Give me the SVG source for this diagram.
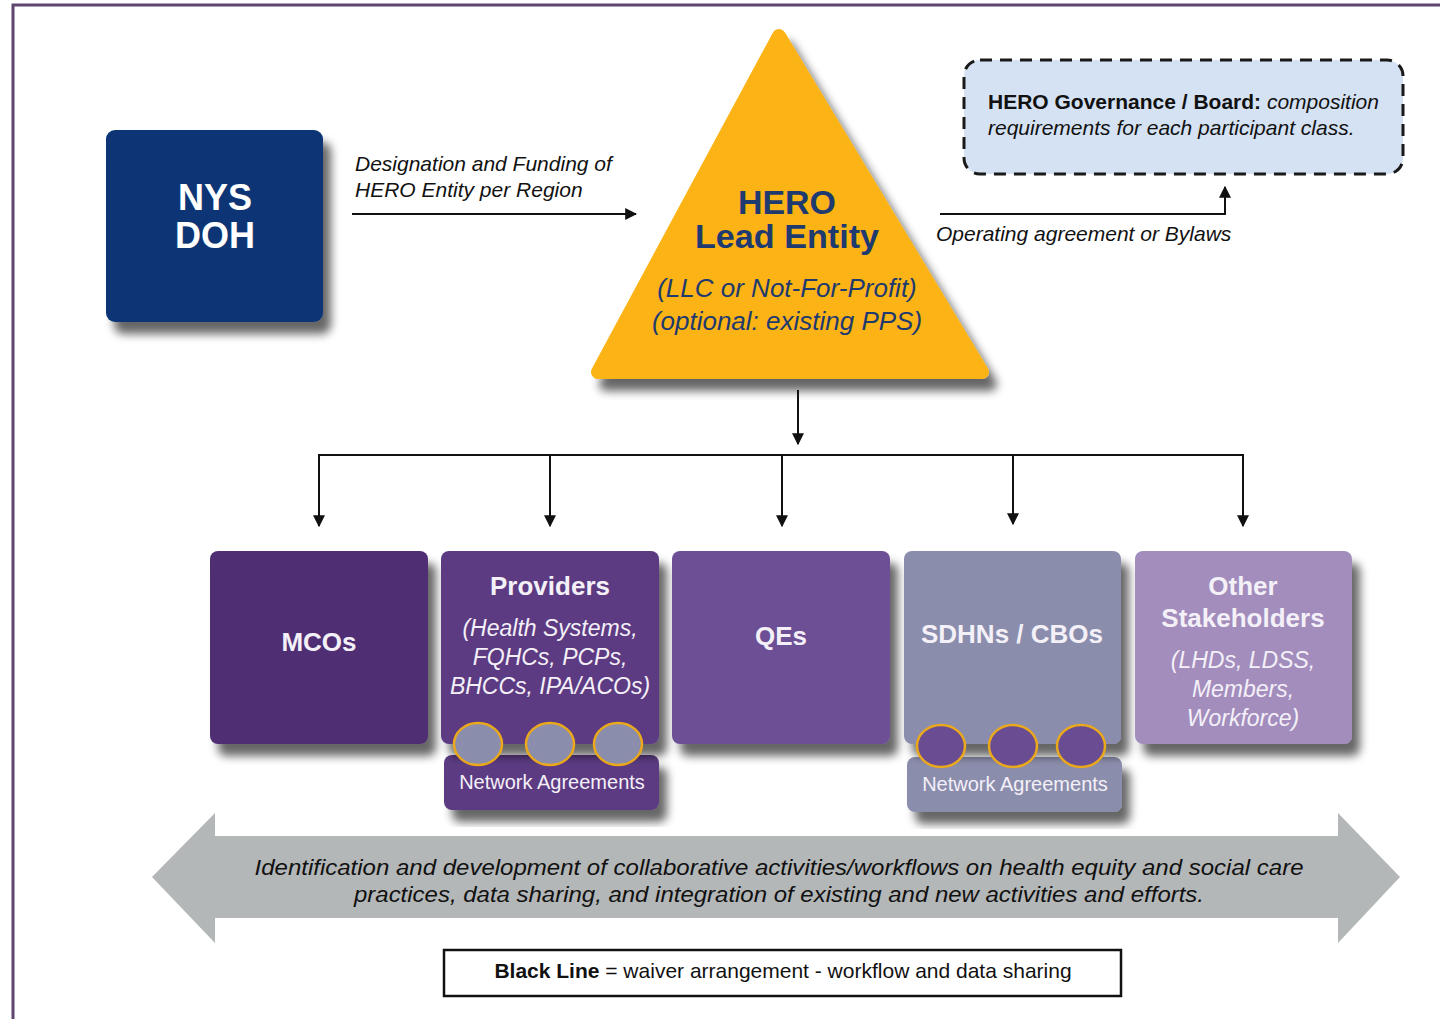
<svg xmlns="http://www.w3.org/2000/svg" width="1440" height="1019" viewBox="0 0 1440 1019">
<defs>
<style>
text{font-family:"Liberation Sans",Arial,sans-serif}
.it{font-style:italic}
.b{font-weight:bold}
.lbl{font-size:21px;fill:#111}
.wt{fill:#f4f0f8;text-anchor:middle}
.conn{stroke:#111;stroke-width:2;fill:none}
</style>
<filter id="sh" x="-20%" y="-20%" width="150%" height="150%">
<feGaussianBlur in="SourceAlpha" stdDeviation="5"/>
<feOffset dx="8" dy="12" result="o"/>
<feComponentTransfer><feFuncA type="linear" slope="0.6"/></feComponentTransfer>
<feMerge><feMergeNode/><feMergeNode in="SourceGraphic"/></feMerge>
</filter>
<marker id="ah" viewBox="0 0 10 10" refX="9" refY="5" markerWidth="6" markerHeight="6" orient="auto" markerUnits="strokeWidth">
<path d="M0,0 L10,5 L0,10 z" fill="#111"/>
</marker>
</defs>
<rect width="1440" height="1019" fill="#fff"/>
<path d="M13,1019 V5 H1440" fill="none" stroke="#5e4670" stroke-width="3"/>

<g id="nysdoh">
<rect x="106" y="130" width="217" height="192" rx="9" fill="#0b3574" filter="url(#sh)"/>
<text x="215" y="210" class="b" font-size="36" fill="#fff" text-anchor="middle">NYS</text>
<text x="215" y="248" class="b" font-size="36" fill="#fff" text-anchor="middle">DOH</text>
</g>

<g id="hero">
<polygon points="779,36 598,372 982,372" fill="#fcb316" stroke="#fcb316" stroke-width="14" stroke-linejoin="round" filter="url(#sh)"/>
<text x="787" y="214" class="b" font-size="33" fill="#1e3a6e" text-anchor="middle" textLength="98" lengthAdjust="spacingAndGlyphs">HERO</text>
<text x="787" y="248" class="b" font-size="33" fill="#1e3a6e" text-anchor="middle" textLength="184" lengthAdjust="spacingAndGlyphs">Lead Entity</text>
<text x="787" y="297" class="it" font-size="26" fill="#1e3a6e" text-anchor="middle">(LLC or Not-For-Profit)</text>
<text x="787" y="330" class="it" font-size="26" fill="#1e3a6e" text-anchor="middle">(optional: existing PPS)</text>
</g>

<g id="governance">
<rect x="964" y="60" width="439" height="114" rx="16" fill="#d5e2f3" stroke="#1a1a1a" stroke-width="3" stroke-dasharray="12,8"/>
<text x="988" y="109" class="lbl"><tspan class="b">HERO Governance / Board:</tspan><tspan class="it"> composition</tspan></text>
<text x="988" y="135" class="lbl it">requirements for each participant class.</text>
</g>

<g id="connectors">
<line x1="352" y1="214" x2="636" y2="214" class="conn" marker-end="url(#ah)"/>
<text x="355" y="171" class="lbl it">Designation and Funding of</text>
<text x="355" y="197" class="lbl it">HERO Entity per Region</text>
<path d="M940,214 H1225 V187" class="conn" marker-end="url(#ah)"/>
<text x="936" y="241" class="lbl it">Operating agreement or Bylaws</text>
<line x1="798" y1="390" x2="798" y2="444" class="conn" marker-end="url(#ah)"/>
<line x1="318" y1="455" x2="1244" y2="455" class="conn"/>
<line x1="319" y1="455" x2="319" y2="526" class="conn" marker-end="url(#ah)"/>
<line x1="550" y1="455" x2="550" y2="526" class="conn" marker-end="url(#ah)"/>
<line x1="782" y1="455" x2="782" y2="526" class="conn" marker-end="url(#ah)"/>
<line x1="1013" y1="455" x2="1013" y2="524" class="conn" marker-end="url(#ah)"/>
<line x1="1243" y1="455" x2="1243" y2="526" class="conn" marker-end="url(#ah)"/>
</g>

<g id="mcos">
<rect x="210" y="551" width="218" height="193" rx="8" fill="#4f2d73" filter="url(#sh)"/>
<text x="319" y="651" class="b wt" font-size="26">MCOs</text>
</g>

<g id="providers">
<rect x="444" y="755" width="215" height="55" rx="8" fill="#5b3a82" filter="url(#sh)"/>
<rect x="441" y="551" width="218" height="193" rx="8" fill="#5b3a82" filter="url(#sh)"/>
<text x="550" y="595" class="b wt" font-size="26">Providers</text>
<text x="550" y="636" class="it wt" font-size="23">(Health Systems,</text>
<text x="550" y="665" class="it wt" font-size="23">FQHCs, PCPs,</text>
<text x="550" y="694" class="it wt" font-size="23">BHCCs, IPA/ACOs)</text>
<ellipse cx="478" cy="744" rx="24" ry="21" fill="#8b8dac" stroke="#eaa81c" stroke-width="2.5"/>
<ellipse cx="550" cy="744" rx="24" ry="21" fill="#8b8dac" stroke="#eaa81c" stroke-width="2.5"/>
<ellipse cx="618" cy="744" rx="24" ry="21" fill="#8b8dac" stroke="#eaa81c" stroke-width="2.5"/>
<text x="552" y="789" class="wt" font-size="20">Network Agreements</text>
</g>

<g id="qes">
<rect x="672" y="551" width="218" height="193" rx="8" fill="#6c4f94" filter="url(#sh)"/>
<text x="781" y="645" class="b wt" font-size="26">QEs</text>
</g>

<g id="sdhns">
<rect x="907" y="757" width="215" height="55" rx="8" fill="#8b8dac" filter="url(#sh)"/>
<rect x="904" y="551" width="217" height="193" rx="8" fill="#8b8dac" filter="url(#sh)"/>
<text x="1012" y="643" class="b wt" font-size="26">SDHNs / CBOs</text>
<ellipse cx="941" cy="746" rx="24" ry="21" fill="#6a4c92" stroke="#eaa81c" stroke-width="2.5"/>
<ellipse cx="1013" cy="746" rx="24" ry="21" fill="#6a4c92" stroke="#eaa81c" stroke-width="2.5"/>
<ellipse cx="1081" cy="746" rx="24" ry="21" fill="#6a4c92" stroke="#eaa81c" stroke-width="2.5"/>
<text x="1015" y="791" class="wt" font-size="20">Network Agreements</text>
</g>

<g id="other">
<rect x="1135" y="551" width="217" height="193" rx="8" fill="#a28dbd" filter="url(#sh)"/>
<text x="1243" y="595" class="b wt" font-size="26">Other</text>
<text x="1243" y="627" class="b wt" font-size="26">Stakeholders</text>
<text x="1243" y="668" class="it wt" font-size="23">(LHDs, LDSS,</text>
<text x="1243" y="697" class="it wt" font-size="23">Members,</text>
<text x="1243" y="726" class="it wt" font-size="23">Workforce)</text>
</g>

<g id="collab">
<polygon points="152,877 215,813 215,836 1338,836 1338,813 1400,877 1338,943 1338,918 215,918 215,943" fill="#b4b7b7"/>
<text x="779" y="875" class="it" font-size="22" fill="#111" text-anchor="middle" textLength="1049" lengthAdjust="spacingAndGlyphs">Identification and development of collaborative activities/workflows on health equity and social care</text>
<text x="779" y="902" class="it" font-size="22" fill="#111" text-anchor="middle" textLength="850" lengthAdjust="spacingAndGlyphs">practices, data sharing, and integration of existing and new activities and efforts.</text>
</g>

<g id="legend">
<rect x="444" y="950" width="677" height="46" fill="#fff" stroke="#111" stroke-width="2.5"/>
<text x="783" y="978" class="lbl" text-anchor="middle"><tspan class="b">Black Line</tspan> = waiver arrangement - workflow and data sharing</text>
</g>
</svg>
